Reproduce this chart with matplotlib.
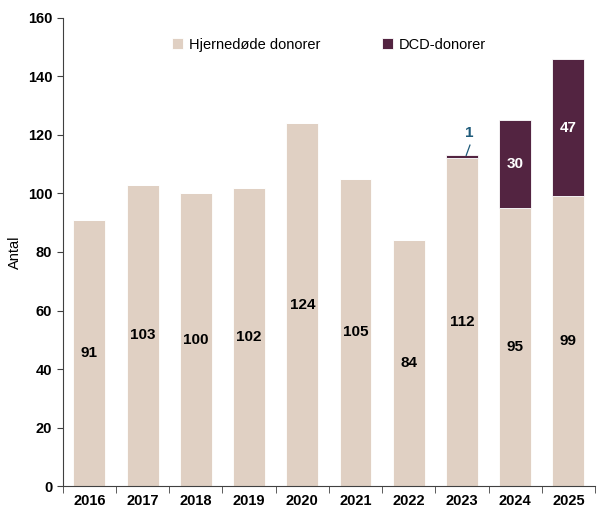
import numpy as np
import matplotlib.pyplot as plt

plt.rcParams['font.family'] = ['Liberation Sans', 'DejaVu Sans']

# Data
years = ['2016', '2017', '2018', '2019', '2020', '2021', '2022', '2023', '2024', '2025']
hjernedoede = [91, 103, 100, 102, 124, 105, 84, 112, 95, 99]
dcd = [0, 0, 0, 0, 0, 0, 0, 1, 30, 47]

c_hd = '#E0D0C3'
c_dcd = '#532441'

fig = plt.figure(figsize=(5.98, 5.08), dpi=100)
ax = fig.add_axes([0.105, 0.043, 0.89, 0.922])

x = np.arange(len(years))
b1 = ax.bar(x, hjernedoede, width=0.6, color=c_hd, edgecolor='white', linewidth=0.6,
            label='Hjernedøde donorer')
b2 = ax.bar(x, dcd, width=0.6, bottom=hjernedoede, color=c_dcd, edgecolor='white',
            linewidth=0.6, label='DCD-donorer')

# værdier midt i søjlerne
for i in range(len(years)):
    ax.text(x[i], hjernedoede[i] / 2, str(hjernedoede[i]), ha='center', va='center',
            fontsize=11, fontweight='bold', color='black')
    if dcd[i] >= 5:
        ax.text(x[i], hjernedoede[i] + dcd[i] / 2, str(dcd[i]), ha='center', va='center',
                fontsize=11, fontweight='bold', color='white')
    elif dcd[i] > 0:
        # lille segment: label over søjlen med streg
        top = hjernedoede[i] + dcd[i]
        ax.plot([x[i] + 0.08, x[i] + 0.15], [top, top + 3.5], color='#1F5B7A', lw=0.9)
        ax.text(x[i] + 0.13, top + 7.5, str(dcd[i]), ha='center', va='center',
                fontsize=11, fontweight='bold', color='#1F5B7A')

ax.set_xlim(-0.5, len(years) - 0.5)
ax.set_ylim(0, 160)
ax.set_yticks(range(0, 161, 20))
ax.set_ylabel('Antal', fontsize=10.5)

ax.set_xticks(x)
ax.set_xticklabels(years, fontweight='bold', fontsize=10.5)
ax.set_xticks(np.arange(-0.5, len(years)), minor=True)
ax.tick_params(axis='x', which='major', length=0, pad=6)
ax.tick_params(axis='x', which='minor', length=5, direction='out', color='#404040')
ax.tick_params(axis='y', length=4, direction='out', color='#404040')
for lbl in ax.get_yticklabels():
    lbl.set_fontweight('bold')
    lbl.set_fontsize(10.5)

for s in ['top', 'right']:
    ax.spines[s].set_visible(False)
for s in ['left', 'bottom']:
    ax.spines[s].set_color('#404040')

ax.legend(loc='upper center', bbox_to_anchor=(0.5, 0.985), ncol=2, frameon=False,
          fontsize=10.5, handlelength=0.8, handleheight=0.8, columnspacing=4.2,
          handletextpad=0.4)

fig.savefig('out.png', dpi=100)
